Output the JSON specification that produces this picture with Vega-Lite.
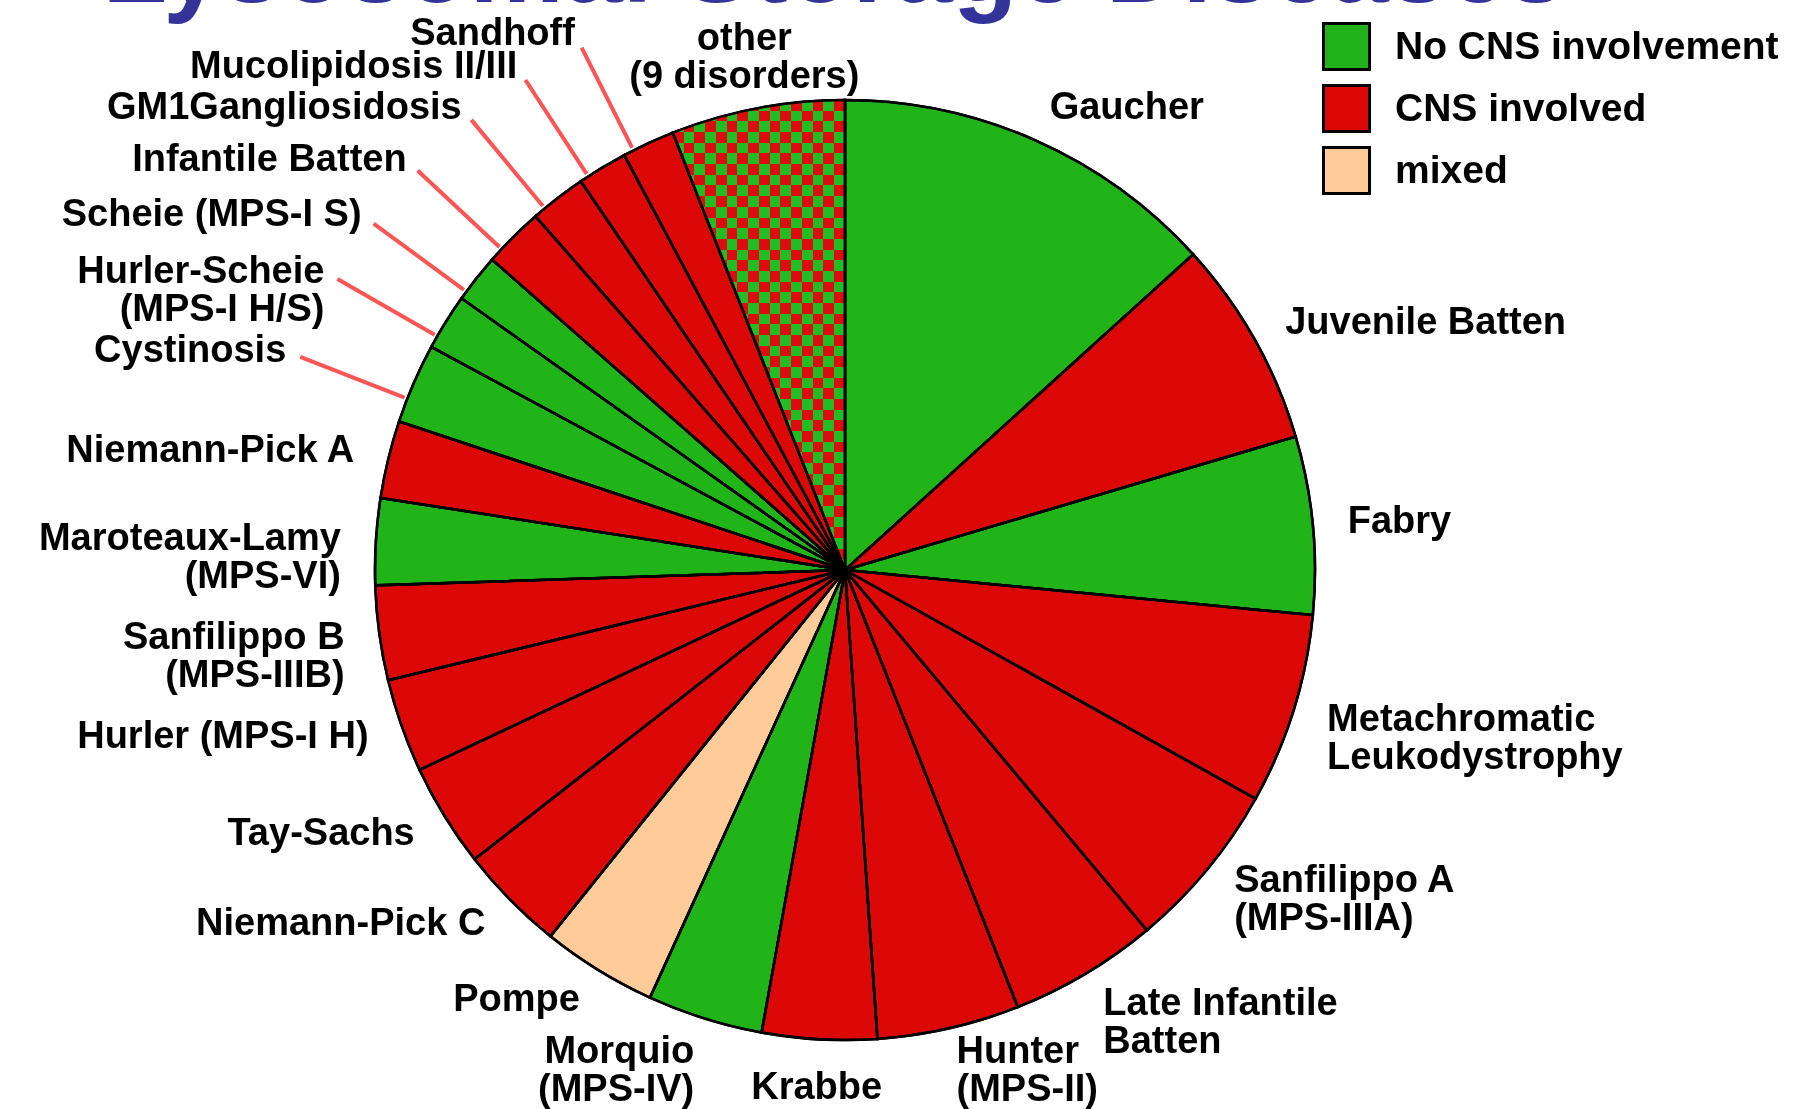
{
  "$schema": "https://vega.github.io/schema/vega-lite/v6.json",
  "width": 1690,
  "height": 1078,
  "autosize": {"type": "none"},
  "padding": {"left": 0, "top": 31, "right": 116, "bottom": 0},
  "background": "white",
  "title": {
    "text": "Lysosomal Storage Diseases",
    "font": "Liberation Sans",
    "fontSize": 106,
    "fontWeight": "bold",
    "color": "#333399",
    "anchor": "middle",
    "frame": "group",
    "baseline": "alphabetic",
    "offset": -142,
    "dx": -11
  },
  "config": {"view": {"stroke": null}},
  "data": {
    "values": [
      {"n": 1, "disorder": "Gaucher", "cns": "No CNS involvement", "share": 13.28},
      {"n": 2, "disorder": "Juvenile Batten", "cns": "CNS involved", "share": 7.14},
      {"n": 3, "disorder": "Fabry", "cns": "No CNS involvement", "share": 6.11},
      {"n": 4, "disorder": "Metachromatic\nLeukodystrophy", "cns": "CNS involved", "share": 6.56},
      {"n": 5, "disorder": "Sanfilippo A\n(MPS-IIIA)", "cns": "CNS involved", "share": 5.81},
      {"n": 6, "disorder": "Late Infantile\nBatten", "cns": "CNS involved", "share": 5.11},
      {"n": 7, "disorder": "Hunter\n(MPS-II)", "cns": "CNS involved", "share": 4.89},
      {"n": 8, "disorder": "Krabbe", "cns": "CNS involved", "share": 3.94},
      {"n": 9, "disorder": "Morquio\n(MPS-IV)", "cns": "No CNS involvement", "share": 3.97},
      {"n": 10, "disorder": "Pompe", "cns": "mixed", "share": 3.97},
      {"n": 11, "disorder": "Niemann-Pick C", "cns": "CNS involved", "share": 3.67},
      {"n": 12, "disorder": "Tay-Sachs", "cns": "CNS involved", "share": 3.56},
      {"n": 13, "disorder": "Hurler (MPS-I H)", "cns": "CNS involved", "share": 3.22},
      {"n": 14, "disorder": "Sanfilippo B\n(MPS-IIIB)", "cns": "CNS involved", "share": 3.25},
      {"n": 15, "disorder": "Maroteaux-Lamy\n(MPS-VI)", "cns": "No CNS involvement", "share": 2.97},
      {"n": 16, "disorder": "Niemann-Pick A", "cns": "CNS involved", "share": 2.67},
      {"n": 17, "disorder": "Cystinosis", "cns": "No CNS involvement", "share": 2.75},
      {"n": 18, "disorder": "Hurler-Scheie\n(MPS-I H/S)", "cns": "No CNS involvement", "share": 1.94},
      {"n": 19, "disorder": "Scheie (MPS-I S)", "cns": "No CNS involvement", "share": 1.67},
      {"n": 20, "disorder": "Infantile Batten", "cns": "CNS involved", "share": 2.08},
      {"n": 21, "disorder": "GM1Gangliosidosis", "cns": "CNS involved", "share": 1.94},
      {"n": 22, "disorder": "Mucolipidosis II/III", "cns": "CNS involved", "share": 1.72},
      {"n": 23, "disorder": "Sandhoff", "cns": "CNS involved", "share": 1.81},
      {"n": 24, "disorder": "other\n(9 disorders)", "cns": "various", "share": 5.97}
    ]
  },
  "encoding": {
    "theta": {"field": "share", "type": "quantitative", "stack": true},
    "order": {"field": "n", "type": "quantitative"}
  },
  "layer": [
    {
      "mark": {"type": "arc", "radius": 470, "stroke": "black", "strokeWidth": 2.5},
      "encoding": {
        "color": {
          "condition": {"test": "datum.cns === 'various'", "value": "#ffffff"},
          "field": "cns",
          "type": "nominal",
          "scale": {
            "domain": ["No CNS involvement", "CNS involved", "mixed"],
            "range": ["#20b418", "#dc0808", "#ffcc99"]
          },
          "legend": {
            "orient": "none",
            "legendX": 1322,
            "legendY": -9,
            "title": null,
            "padding": 0,
            "symbolType": "square",
            "symbolSize": 2116,
            "symbolStrokeColor": "black",
            "symbolStrokeWidth": 3,
            "symbolOpacity": 1,
            "labelFont": "Liberation Sans",
            "labelFontSize": 39,
            "labelFontWeight": "bold",
            "labelColor": "black",
            "labelOffset": 24,
            "labelLimit": 700,
            "rowPadding": 3
          }
        }
      }
    },
    {
      "mark": {"type": "arc", "radius": 470, "strokeWidth": 0},
      "encoding": {
        "fill": {
          "condition": {
            "test": "datum.cns === 'various'",
            "value": {
              "gradient": "linear", "x1": 0, "y1": 0, "x2": 1, "y2": 0,
              "stops": [
                {"offset": 0, "color": "#22bc24"}, {"offset": 0.0625, "color": "#22bc24"},
                {"offset": 0.0625, "color": "#dd0c10"}, {"offset": 0.125, "color": "#dd0c10"},
                {"offset": 0.125, "color": "#22bc24"}, {"offset": 0.1875, "color": "#22bc24"},
                {"offset": 0.1875, "color": "#dd0c10"}, {"offset": 0.25, "color": "#dd0c10"},
                {"offset": 0.25, "color": "#22bc24"}, {"offset": 0.3125, "color": "#22bc24"},
                {"offset": 0.3125, "color": "#dd0c10"}, {"offset": 0.375, "color": "#dd0c10"},
                {"offset": 0.375, "color": "#22bc24"}, {"offset": 0.4375, "color": "#22bc24"},
                {"offset": 0.4375, "color": "#dd0c10"}, {"offset": 0.5, "color": "#dd0c10"},
                {"offset": 0.5, "color": "#22bc24"}, {"offset": 0.5625, "color": "#22bc24"},
                {"offset": 0.5625, "color": "#dd0c10"}, {"offset": 0.625, "color": "#dd0c10"},
                {"offset": 0.625, "color": "#22bc24"}, {"offset": 0.6875, "color": "#22bc24"},
                {"offset": 0.6875, "color": "#dd0c10"}, {"offset": 0.75, "color": "#dd0c10"},
                {"offset": 0.75, "color": "#22bc24"}, {"offset": 0.8125, "color": "#22bc24"},
                {"offset": 0.8125, "color": "#dd0c10"}, {"offset": 0.875, "color": "#dd0c10"},
                {"offset": 0.875, "color": "#22bc24"}, {"offset": 0.9375, "color": "#22bc24"},
                {"offset": 0.9375, "color": "#dd0c10"}, {"offset": 1, "color": "#dd0c10"}
              ]
            }
          },
          "value": "transparent"
        }
      }
    },
    {
      "mark": {"type": "arc", "radius": 470, "strokeWidth": 0, "blend": "difference"},
      "encoding": {
        "fill": {
          "condition": {
            "test": "datum.cns === 'various'",
            "value": {
              "gradient": "linear", "x1": 0, "y1": 0, "x2": 0, "y2": 1,
              "stops": [
                {"offset": 0, "color": "#000000"}, {"offset": 0.0227, "color": "#000000"},
                {"offset": 0.0227, "color": "#ffc834"}, {"offset": 0.0455, "color": "#ffc834"},
                {"offset": 0.0455, "color": "#000000"}, {"offset": 0.0682, "color": "#000000"},
                {"offset": 0.0682, "color": "#ffc834"}, {"offset": 0.0909, "color": "#ffc834"},
                {"offset": 0.0909, "color": "#000000"}, {"offset": 0.1136, "color": "#000000"},
                {"offset": 0.1136, "color": "#ffc834"}, {"offset": 0.1364, "color": "#ffc834"},
                {"offset": 0.1364, "color": "#000000"}, {"offset": 0.1591, "color": "#000000"},
                {"offset": 0.1591, "color": "#ffc834"}, {"offset": 0.1818, "color": "#ffc834"},
                {"offset": 0.1818, "color": "#000000"}, {"offset": 0.2045, "color": "#000000"},
                {"offset": 0.2045, "color": "#ffc834"}, {"offset": 0.2273, "color": "#ffc834"},
                {"offset": 0.2273, "color": "#000000"}, {"offset": 0.25, "color": "#000000"},
                {"offset": 0.25, "color": "#ffc834"}, {"offset": 0.2727, "color": "#ffc834"},
                {"offset": 0.2727, "color": "#000000"}, {"offset": 0.2955, "color": "#000000"},
                {"offset": 0.2955, "color": "#ffc834"}, {"offset": 0.3182, "color": "#ffc834"},
                {"offset": 0.3182, "color": "#000000"}, {"offset": 0.3409, "color": "#000000"},
                {"offset": 0.3409, "color": "#ffc834"}, {"offset": 0.3636, "color": "#ffc834"},
                {"offset": 0.3636, "color": "#000000"}, {"offset": 0.3864, "color": "#000000"},
                {"offset": 0.3864, "color": "#ffc834"}, {"offset": 0.4091, "color": "#ffc834"},
                {"offset": 0.4091, "color": "#000000"}, {"offset": 0.4318, "color": "#000000"},
                {"offset": 0.4318, "color": "#ffc834"}, {"offset": 0.4545, "color": "#ffc834"},
                {"offset": 0.4545, "color": "#000000"}, {"offset": 0.4773, "color": "#000000"},
                {"offset": 0.4773, "color": "#ffc834"}, {"offset": 0.5, "color": "#ffc834"},
                {"offset": 0.5, "color": "#000000"}, {"offset": 0.5227, "color": "#000000"},
                {"offset": 0.5227, "color": "#ffc834"}, {"offset": 0.5455, "color": "#ffc834"},
                {"offset": 0.5455, "color": "#000000"}, {"offset": 0.5682, "color": "#000000"},
                {"offset": 0.5682, "color": "#ffc834"}, {"offset": 0.5909, "color": "#ffc834"},
                {"offset": 0.5909, "color": "#000000"}, {"offset": 0.6136, "color": "#000000"},
                {"offset": 0.6136, "color": "#ffc834"}, {"offset": 0.6364, "color": "#ffc834"},
                {"offset": 0.6364, "color": "#000000"}, {"offset": 0.6591, "color": "#000000"},
                {"offset": 0.6591, "color": "#ffc834"}, {"offset": 0.6818, "color": "#ffc834"},
                {"offset": 0.6818, "color": "#000000"}, {"offset": 0.7045, "color": "#000000"},
                {"offset": 0.7045, "color": "#ffc834"}, {"offset": 0.7273, "color": "#ffc834"},
                {"offset": 0.7273, "color": "#000000"}, {"offset": 0.75, "color": "#000000"},
                {"offset": 0.75, "color": "#ffc834"}, {"offset": 0.7727, "color": "#ffc834"},
                {"offset": 0.7727, "color": "#000000"}, {"offset": 0.7955, "color": "#000000"},
                {"offset": 0.7955, "color": "#ffc834"}, {"offset": 0.8182, "color": "#ffc834"},
                {"offset": 0.8182, "color": "#000000"}, {"offset": 0.8409, "color": "#000000"},
                {"offset": 0.8409, "color": "#ffc834"}, {"offset": 0.8636, "color": "#ffc834"},
                {"offset": 0.8636, "color": "#000000"}, {"offset": 0.8864, "color": "#000000"},
                {"offset": 0.8864, "color": "#ffc834"}, {"offset": 0.9091, "color": "#ffc834"},
                {"offset": 0.9091, "color": "#000000"}, {"offset": 0.9318, "color": "#000000"},
                {"offset": 0.9318, "color": "#ffc834"}, {"offset": 0.9545, "color": "#ffc834"},
                {"offset": 0.9545, "color": "#000000"}, {"offset": 0.9773, "color": "#000000"},
                {"offset": 0.9773, "color": "#ffc834"}, {"offset": 1, "color": "#ffc834"}
              ]
            }
          },
          "value": "transparent"
        }
      }
    },
    {
      "mark": {"type": "arc", "radius": 470, "fill": "transparent", "stroke": "black", "strokeWidth": 2.5}
    },
    {
      "mark": {"type": "arc", "radius": 585, "radius2": 473, "padAngle": 0.6, "thetaOffset": -0.035, "theta2Offset": -0.035, "fill": "transparent", "strokeWidth": 4, "strokeCap": "round"},
      "encoding": {
        "stroke": {
          "condition": {"test": "datum.n >= 17 && datum.n <= 23", "value": "#ff5555"},
          "value": null
        }
      }
    },
    {
      "mark": {"type": "text", "radius": 505, "align": "left", "baseline": "middle", "font": "Liberation Sans", "fontWeight": "bold", "fontSize": 38, "lineHeight": 38, "lineBreak": "\n", "color": "black"},
      "encoding": {
        "text": {"condition": {"test": "datum.n <= 4 || datum.n === 6", "field": "disorder"}, "value": ""}
      }
    },
    {
      "mark": {"type": "text", "radius": 505, "dy": -11, "align": "left", "baseline": "middle", "font": "Liberation Sans", "fontWeight": "bold", "fontSize": 38, "lineHeight": 38, "lineBreak": "\n", "color": "black"},
      "encoding": {
        "text": {"condition": {"test": "datum.n === 5 || datum.n === 7", "field": "disorder"}, "value": ""}
      }
    },
    {
      "mark": {"type": "text", "radius": 505, "align": "right", "baseline": "middle", "font": "Liberation Sans", "fontWeight": "bold", "fontSize": 38, "lineHeight": 38, "lineBreak": "\n", "color": "black"},
      "encoding": {
        "text": {"condition": {"test": "datum.n >= 9 && datum.n <= 16", "field": "disorder"}, "value": ""}
      }
    },
    {
      "mark": {"type": "text", "radius": 519, "align": "center", "baseline": "middle", "font": "Liberation Sans", "fontWeight": "bold", "fontSize": 38, "lineHeight": 38, "lineBreak": "\n", "color": "black"},
      "encoding": {
        "text": {"condition": {"test": "datum.n === 8", "field": "disorder"}, "value": ""}
      }
    },
    {
      "mark": {"type": "text", "radius": 540, "align": "center", "baseline": "middle", "font": "Liberation Sans", "fontWeight": "bold", "fontSize": 38, "lineHeight": 38, "lineBreak": "\n", "color": "black"},
      "encoding": {
        "text": {"condition": {"test": "datum.n === 24", "field": "disorder"}, "value": ""}
      }
    },
    {
      "mark": {"type": "text", "radius": 600, "thetaOffset": -0.035, "align": "right", "baseline": "middle", "font": "Liberation Sans", "fontWeight": "bold", "fontSize": 38, "lineHeight": 38, "lineBreak": "\n", "color": "black"},
      "encoding": {
        "text": {"condition": {"test": "datum.n >= 17 && datum.n <= 23", "field": "disorder"}, "value": ""}
      }
    }
  ]
}
